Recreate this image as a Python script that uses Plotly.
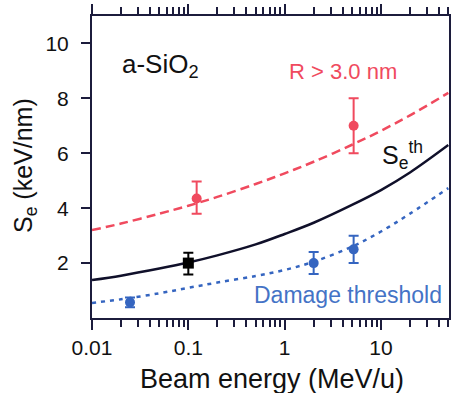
import plotly.graph_objects as go

# ---- data ----
curve_E = [0.01, 0.02, 0.05, 0.1, 0.2, 0.5, 1, 2, 5, 10, 20, 50]
red_curve = [3.2, 3.44, 3.8, 4.09, 4.41, 4.88, 5.27, 5.69, 6.31, 6.82, 7.38, 8.2]
black_curve = [1.38, 1.54, 1.8, 2.02, 2.28, 2.68, 3.06, 3.47, 4.12, 4.66, 5.3, 6.3]
blue_curve = [0.55, 0.68, 0.9, 1.1, 1.29, 1.53, 1.75, 2.05, 2.6, 3.15, 3.8, 4.73]

red_E = [0.122, 5.2]
red_S = [4.35, 7.0]
red_err_plus = [0.62, 1.0]
red_err_minus = [0.55, 1.0]

black_E = [0.1]
black_S = [2.0]
black_err_plus = [0.38]
black_err_minus = [0.42]

blue_E = [0.0248, 2.0, 5.2]
blue_S = [0.57, 2.0, 2.5]
blue_err = [0.18, 0.4, 0.5]

x_major = [0.01, 0.1, 1, 10]
x_major_text = ["0.01", "0.1", "1", "10"]
x_minor = [m * d for d in [0.01, 0.1, 1, 10] for m in range(2, 10) if m * d <= 50]
y_ticks = [2, 4, 6, 8, 10]

RED = "#f04a5e"
BLUE = "#3565c0"
LBLUE = "#4473c6"
BLACK = "#10102a"
AXC = "#1c1c3c"
TXT = "#111111"
FONT = "Liberation Sans, Arial, sans-serif"

fig = go.Figure()

fig.add_trace(go.Scatter(x=curve_E, y=red_curve, mode="lines", line=dict(color=RED, width=2.5, dash="9px,5px", shape="spline"), hoverinfo="skip"))
fig.add_trace(go.Scatter(x=curve_E, y=black_curve, mode="lines", line=dict(color=BLACK, width=2.5, shape="spline"), hoverinfo="skip"))
fig.add_trace(go.Scatter(x=curve_E, y=blue_curve, mode="lines", line=dict(color=BLUE, width=2.5, dash="4px,5px", shape="spline"), hoverinfo="skip"))

fig.add_trace(go.Scatter(x=red_E, y=red_S, mode="markers", marker=dict(color=RED, size=10, symbol="circle"),
                         error_y=dict(type="data", array=red_err_plus, arrayminus=red_err_minus, color=RED, thickness=2, width=5)))
fig.add_trace(go.Scatter(x=black_E, y=black_S, mode="markers", marker=dict(color="black", size=11, symbol="square"),
                         error_y=dict(type="data", array=black_err_plus, arrayminus=black_err_minus, color="black", thickness=2, width=5)))
fig.add_trace(go.Scatter(x=blue_E, y=blue_S, mode="markers", marker=dict(color=BLUE, size=10, symbol="circle"),
                         error_y=dict(type="data", array=blue_err, color=BLUE, thickness=2, width=5)))

fig.update_layout(
    width=451, height=393,
    margin=dict(l=92, r=2, t=16, b=75),
    paper_bgcolor="white", plot_bgcolor="white",
    showlegend=False,
    font=dict(family=FONT, color=TXT),
    xaxis=dict(
        type="log", range=[-2, 1.706], automargin=False,
        tickvals=x_major, ticktext=x_major_text,
        ticks="outside", ticklen=10, tickwidth=2, tickcolor=AXC,
        minor=dict(ticks="outside", ticklen=7, tickwidth=2, tickcolor=AXC, tickvals=x_minor, showgrid=False),
        showline=True, linecolor=AXC, linewidth=2, mirror="allticks",
        showgrid=False, zeroline=False,
        tickfont=dict(size=21, family=FONT, color=TXT),
    ),
    yaxis=dict(
        range=[0, 11], automargin=False,
        tickvals=y_ticks,
        ticks="outside", ticklen=9, tickwidth=2, tickcolor=AXC,
        ticklabelstandoff=8,
        showline=True, linecolor=AXC, linewidth=2, mirror=True,
        showgrid=False, zeroline=False,
        tickfont=dict(size=21, family=FONT, color=TXT),
    ),
)

def px_x(px):
    return (px - 92) / 357.0

def px_y(py):
    return (318 - py) / 302.0

# axis titles
fig.add_annotation(text="Beam energy (MeV/u)", xref="paper", yref="paper", x=px_x(272), y=px_y(379),
                   xanchor="center", yanchor="middle", showarrow=False, font=dict(size=27, color=TXT, family=FONT))
fig.add_annotation(text="S<sub>e</sub> (keV/nm)", xref="paper", yref="paper", x=px_x(25), y=px_y(166),
                   xanchor="center", yanchor="middle", textangle=-90, showarrow=False, font=dict(size=25, color=TXT, family=FONT))

# in-plot labels
fig.add_annotation(text="a-SiO<sub>2</sub>", xref="paper", yref="paper", x=px_x(120), y=px_y(66),
                   xanchor="left", yanchor="middle", showarrow=False, font=dict(size=26, color=TXT, family=FONT))
fig.add_annotation(text="R > 3.0 nm", xref="paper", yref="paper", x=px_x(287), y=px_y(72),
                   xanchor="left", yanchor="middle", showarrow=False, font=dict(size=22, color=RED, family=FONT))
fig.add_annotation(text="S<sub>e</sub><sup>th</sup>", xref="paper", yref="paper", x=px_x(380), y=px_y(155),
                   xanchor="left", yanchor="middle", showarrow=False, font=dict(size=25, color=TXT, family=FONT))
fig.add_annotation(text="Damage threshold", xref="paper", yref="paper", x=px_x(444), y=px_y(295),
                   xanchor="right", yanchor="middle", showarrow=False, font=dict(size=23, color=LBLUE, family=FONT))

fig.write_html("out.html", config={"displayModeBar": False},
               post_script="document.body.style.margin='0';document.body.style.overflow='hidden';")
